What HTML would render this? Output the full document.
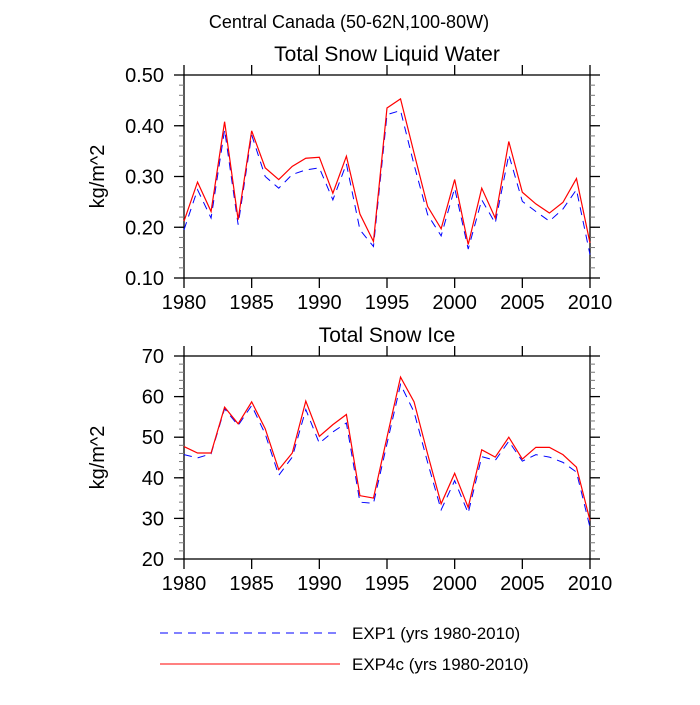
<!DOCTYPE html>
<html><head><meta charset="utf-8"><style>
body{margin:0;background:#fff}
svg text{font-family:"Liberation Sans",sans-serif;fill:#000}
</style></head><body>
<svg id="c" width="700" height="700" xmlns="http://www.w3.org/2000/svg">
<text x="349" y="28" font-size="18" text-anchor="middle">Central Canada (50-62N,100-80W)</text>
<g id="p1"></g><g id="p2"></g>
<g>
<line x1="160" y1="633" x2="340" y2="633" stroke="#0000ff" stroke-width="1" stroke-dasharray="8,6"/>
<text x="352" y="639" font-size="17">EXP1 (yrs 1980-2010)</text>
<line x1="160" y1="664" x2="340" y2="664" stroke="#ff0000" stroke-width="1"/>
<text x="352" y="670" font-size="17">EXP4c (yrs 1980-2010)</text>
</g>
</svg>
<script>
const years=[];for(let y=1980;y<=2010;y++)years.push(y);
const xTicks=[1980,1985,1990,1995,2000,2005,2010];
const swlExp4c=[0.212,0.289,0.231,0.408,0.215,0.390,0.317,0.294,0.320,0.336,0.338,0.267,0.340,0.226,0.172,0.435,0.453,0.346,0.241,0.197,0.294,0.166,0.277,0.218,0.369,0.269,0.246,0.228,0.249,0.296,0.169];
const swlExp1=[0.195,0.274,0.218,0.392,0.205,0.382,0.300,0.277,0.304,0.313,0.317,0.254,0.325,0.195,0.162,0.422,0.430,0.323,0.225,0.183,0.277,0.157,0.254,0.208,0.343,0.251,0.231,0.212,0.236,0.274,0.146];
const swlTicks=[0.10,0.20,0.30,0.40,0.50];
const sniExp4c=[47.7,46.1,46.1,57.4,53.3,58.7,52.1,42.0,46.1,58.9,50.2,53.1,55.6,35.6,35.0,50.0,64.8,58.7,45.9,33.6,41.1,32.7,46.9,45.1,50.0,44.6,47.5,47.5,45.7,42.6,29.5];
const sniExp1=[45.7,44.9,45.9,57.0,52.9,57.8,50.8,40.6,45.1,56.8,48.5,51.3,53.5,34.0,33.7,48.4,63.0,56.2,43.8,32.1,39.3,31.3,45.2,44.3,49.0,44.1,45.7,45.1,43.8,41.4,27.8];
const sniTicks=[20,30,40,50,60,70];
const NS='http://www.w3.org/2000/svg';
function mk(p,t,a){const e=document.createElementNS(NS,t);for(const k in a)e.setAttribute(k,a[k]);p.appendChild(e);return e;}
function panel(g,top,title,ticks,fmt,minorStep,s1,s2,nm){
 const L=184,R=590,B=top+203,ymin=ticks[0],ymax=ticks[ticks.length-1];
 const xs=v=>L+(v-1980)/30*(R-L), ys=v=>B-(v-ymin)/(ymax-ymin)*(B-top);
 const t=mk(g,'text',{x:387,y:top-14,'font-size':21,'text-anchor':'middle'});t.textContent=title;
 
 
 const fr=mk(g,'rect',{x:L,y:top,width:R-L,height:B-top,fill:'none',stroke:'#000','stroke-width':1.3});
 
 
 for(let v=ymin;v<=ymax+1e-9;v+=minorStep){const y=ys(v);
  mk(g,'line',{x1:L-5,y1:y,x2:L,y2:y,stroke:'#777'});mk(g,'line',{x1:R,y1:y,x2:R+5,y2:y,stroke:'#777'});}
 ticks.forEach(v=>{const y=ys(v);
  mk(g,'line',{x1:L-10,y1:y,x2:L,y2:y,stroke:'#000','stroke-width':1.3});
  mk(g,'line',{x1:R,y1:y,x2:R+10,y2:y,stroke:'#000','stroke-width':1.3});
  const tx=mk(g,'text',{x:L-20,y:y+7,'font-size':20,'text-anchor':'end'});tx.textContent=fmt(v);
  
  });
 xTicks.forEach(v=>{const x=xs(v);
  mk(g,'line',{x1:x,y1:top-10,x2:x,y2:top,stroke:'#000','stroke-width':1.3});
  mk(g,'line',{x1:x,y1:B,x2:x,y2:B+10,stroke:'#000','stroke-width':1.3});
  const tx=mk(g,'text',{x:x,y:B+31,'font-size':20,'text-anchor':'middle'});tx.textContent=v;
  
  });
 const yt=mk(g,'text',{x:0,y:0,'font-size':20,'text-anchor':'middle',transform:`translate(104,${(top+B)/2}) rotate(-90)`});yt.textContent='kg/m^2';
 
 
 const p1=mk(g,'polyline',{points:s1.map((v,i)=>xs(years[i])+','+ys(v)).join(' '),fill:'none',stroke:'#0000ff','stroke-width':1,'stroke-dasharray':'8,6'});
 
 
 const p2=mk(g,'polyline',{points:s2.map((v,i)=>xs(years[i])+','+ys(v)).join(' '),fill:'none',stroke:'#ff0000','stroke-width':1.2});
 
 
}
panel(document.getElementById('p1'),75,'Total Snow Liquid Water',swlTicks,v=>v.toFixed(2),0.02,swlExp1,swlExp4c,'liquid-water');
panel(document.getElementById('p2'),356,'Total Snow Ice',sniTicks,v=>String(v),2,sniExp1,sniExp4c,'snow-ice');
</script>
</body></html>
